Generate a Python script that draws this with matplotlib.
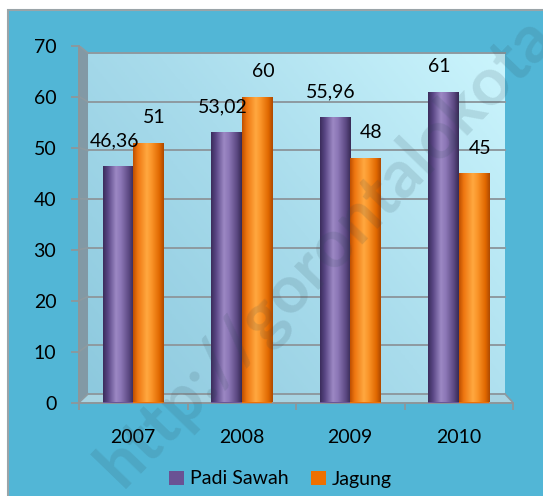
import numpy as np
import matplotlib
matplotlib.use('Agg')
import matplotlib.pyplot as plt
from matplotlib.colors import LinearSegmentedColormap
from matplotlib.patches import Rectangle, Polygon

# ---------------- data ----------------
years = ['2007', '2008', '2009', '2010']
padi = [46.36, 53.02, 55.96, 61]
jagung = [51, 60, 48, 45]
padi_labels = ['46,36', '53,02', '55,96', '61']
jagung_labels = ['51', '60', '48', '45']
series_names = ['Padi Sawah', 'Jagung']
yticks = [0, 10, 20, 30, 40, 50, 60, 70]

plt.rcParams['font.family'] = ['Lato', 'DejaVu Sans']

W, H = 543, 496
fig = plt.figure(figsize=(W / 100, H / 100), dpi=100)
fig.patch.set_facecolor('white')
fig.patches.append(Rectangle((8 / W, -0.01), (W - 8) / W + 0.01, (H - 10) / H + 0.01,
                             transform=fig.transFigure, facecolor='#52B6D6',
                             edgecolor='#9AA4A8', lw=1.5, zorder=-10))

ax = fig.add_axes([79 / W, 93.5 / H, 434 / W, 356.8 / H])
ax.patch.set_alpha(0)

# back wall geometry (perspective)
WX0, WX1 = -0.417, 3.426
WY0, WY1 = 1.67, 68.57
YMAX = yticks[-1]


def back(v):
    return WY0 + v * (WY1 - WY0) / YMAX


# wall gradient
wall_cmap = LinearSegmentedColormap.from_list('wall', ['#8DC9DE', '#A9DCEC', '#CBF5FD'])
gx, gy = np.meshgrid(np.linspace(0, 1, 200), np.linspace(0, 1, 200))
ax.imshow((gx * 0.6 + gy * 0.4)[::-1], extent=[WX0, WX1, WY0, WY1], cmap=wall_cmap,
          aspect='auto', zorder=0.5, interpolation='bilinear')
# side wall and floor
ax.add_patch(Polygon([(-0.5, 0), (-0.5, YMAX), (WX0, WY1), (WX0, WY0)],
                     facecolor='#8299A5', edgecolor='none', zorder=0.6))
ax.add_patch(Polygon([(-0.5, 0), (3.5, 0), (WX1, WY0), (WX0, WY0)],
                     facecolor='#A8D4E2', edgecolor='none', zorder=0.6))

gridc = '#8E9AA0'
for v in yticks:
    ax.plot([WX0, WX1], [back(v), back(v)], color=gridc, lw=1.4, zorder=1)
    ax.plot([-0.5, WX0], [v, back(v)], color=gridc, lw=1.2, zorder=1)
ax.plot([3.5, WX1], [0, back(0)], color=gridc, lw=1.2, zorder=1)

# bars with cylinder shading
w = 0.28
purple_cmap = LinearSegmentedColormap.from_list(
    'p', [(0, '#3B2D5C'), (0.15, '#584583'), (0.42, '#9C88C4'), (0.58, '#8C77B6'),
          (0.85, '#5A4780'), (1, '#382A55')])
orange_cmap = LinearSegmentedColormap.from_list(
    'o', [(0, '#BF5000'), (0.15, '#EE7610'), (0.45, '#FFA840'), (0.6, '#FB9529'),
          (0.86, '#E06800'), (1, '#AE4A00')])
grad = np.linspace(0, 1, 100)[None, :]

x = np.arange(len(years))
for vals, off, base, cm, labels, dx in [
        (padi, -w / 2, '#6B5597', purple_cmap, padi_labels, -4),
        (jagung, w / 2, '#EE7203', orange_cmap, jagung_labels, 6)]:
    bars = ax.bar(x + off, vals, w, color=base, zorder=3, linewidth=0)
    for b, lab in zip(bars, labels):
        x0 = b.get_x()
        im = ax.imshow(grad, extent=[x0, x0 + b.get_width(), 0, b.get_height()],
                       cmap=cm, aspect='auto', zorder=3.1, interpolation='bilinear')
        im.set_clip_path(b)
        ax.annotate(lab, (x0 + b.get_width() / 2, b.get_height()), xytext=(dx, 25),
                    textcoords='offset pixels', ha='center', va='center',
                    fontsize=14, color='black', zorder=5)

ax.set_xlim(-0.5, 3.5)
ax.set_ylim(0, YMAX)

for s in ['top', 'right']:
    ax.spines[s].set_visible(False)
for s in ['left', 'bottom']:
    ax.spines[s].set_color('#8E969A')
    ax.spines[s].set_linewidth(1.4)
    ax.spines[s].set_zorder(2)

ax.set_yticks(yticks)
ax.tick_params(axis='y', direction='out', length=5.8, width=1.3, color='#8E969A',
               pad=10.5, labelsize=14)
ax.set_xticks(x, years)
ax.set_xticks(np.arange(-0.5, len(years)), minor=True)
ax.tick_params(axis='x', which='major', length=0, pad=19, labelsize=14)
ax.tick_params(axis='x', which='minor', direction='out', length=5, width=1.3, color='#8E969A')

handles = [Rectangle((0, 0), 1, 1, fc='#6A5294'), Rectangle((0, 0), 1, 1, fc='#EE7000')]
fig.legend(handles, series_names, loc='center', bbox_to_anchor=(280.5 / W, 17 / H), ncol=2,
           frameon=False, fontsize=14, handlelength=0.75, handleheight=0.75,
           handletextpad=0.3, columnspacing=1.2, borderpad=0)

fig.text(122 / W, (H - 489) / H, 'http://gorontalokota', rotation=46,
         rotation_mode='anchor', ha='left', va='baseline', fontsize=48,
         fontweight='bold', color='#2F4A55', alpha=0.14, zorder=10)

fig.savefig('out.png', dpi=100)
